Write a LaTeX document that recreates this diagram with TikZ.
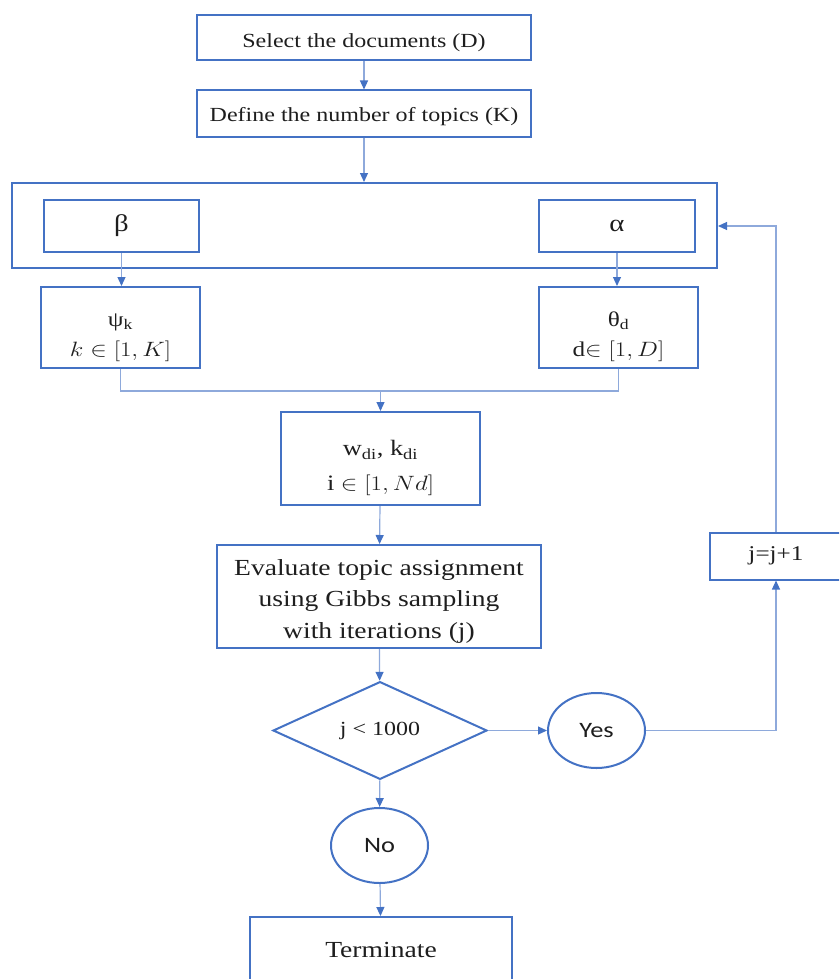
\documentclass[tikz,border=0pt]{standalone}
\usepackage{fontspec}
\usepackage{graphicx}
\setmainfont{Liberation Serif}[FakeStretch=1.2]
\newfontfamily\calib{Carlito}[FakeStretch=1.2]
\usetikzlibrary{arrows.meta,shapes.geometric}
\definecolor{boxblue}{HTML}{4472C4}
\definecolor{lineblue}{HTML}{8EA9DB}
\definecolor{txt}{HTML}{1E1E1E}
\newcommand{\mth}[1]{\scalebox{1.2}[1]{$#1$}}
\newcommand{\lowered}[2]{\raisebox{-#1}[0pt][0pt]{\begin{tabular}{@{}c@{}}#2\end{tabular}}}
\begin{document}
\begin{tikzpicture}[x=1pt,y=-1pt,
  bx/.style={draw=boxblue,line width=2pt,rectangle,inner sep=0pt,text=txt,align=center,font=\fontsize{20}{24}\selectfont},
  bigbx/.style={bx,font=\fontsize{23}{31.5}\selectfont},
  mathbx/.style={bx,font=\fontsize{21}{30}\selectfont},
  roundnode/.style={draw=boxblue,line width=2pt,ellipse,inner sep=0pt,minimum width=97pt,minimum height=75pt,text=txt,font=\calib\fontsize{22}{24}\selectfont},
  decide/.style={draw=boxblue,line width=2pt,diamond,inner sep=0pt,minimum width=214pt,minimum height=87pt,text=txt,font=\fontsize{20}{24}\selectfont},
  conn/.style={draw=lineblue,line width=1.2pt,-{Triangle[length=9pt,width=8pt,color=boxblue]}},
  plainline/.style={draw=lineblue,line width=1.2pt}]
\useasboundingbox (0,0) rectangle (839,979);
\clip (0,0) rectangle (839,979);

\node[bx,minimum width=334pt,minimum height=45pt] (docs) at (364,38) {\raisebox{-10pt}[0pt][0pt]{Select the documents (D)}};
\node[bx,minimum width=334pt,minimum height=46pt] (topics) at (364,113.5) {\raisebox{-8pt}[0pt][0pt]{Define the number of topics (K)}};
\node[bx,minimum width=705pt,minimum height=85pt] (outer) at (364.5,225.5) {};
\node[bx,minimum width=155pt,minimum height=52pt,font=\fontsize{24}{26}\selectfont] (beta) at (121.5,226) {β};
\node[bx,minimum width=156pt,minimum height=52pt,font=\fontsize{24}{26}\selectfont] (alpha) at (617,226) {α};
\node[mathbx,minimum width=159pt,minimum height=81pt] (psi) at (120.5,327.5) {\lowered{13pt}{ψ\textsubscript{k}\\\mth{k \in [1,K]}}};
\node[mathbx,minimum width=159pt,minimum height=81pt] (theta) at (618.5,327.5) {\lowered{13pt}{θ\textsubscript{d}\\d\mth{\in [1,D]}}};
\node[mathbx,minimum width=199pt,minimum height=93pt,font=\fontsize{22}{35}\selectfont] (w) at (380.5,458.5) {\lowered{13pt}{w\textsubscript{di}, k\textsubscript{di}\\i \mth{\in [1,Nd]}}};
\node[bigbx,minimum width=324pt,minimum height=103pt] (eval) at (379,596.5) {\lowered{10pt}{Evaluate topic assignment\\using Gibbs sampling\\with iterations (j)}};
\node[decide] (dia) at (380,730.5) {j < 1000};
\node[roundnode] (yes) at (596.5,730.5) {Yes};
\node[roundnode] (no) at (379.5,845.5) {No};
\node[bigbx,minimum width=262pt,minimum height=66pt] (term) at (381,950) {Terminate};
\node[bx,minimum width=132pt,minimum height=47pt,font=\fontsize{21}{24}\selectfont] (jj) at (776,556) {j=j+1};

\coordinate (merge) at (380.5,391);
\coordinate (fbbottom) at (776,730.5);
\coordinate (fbtop) at (776,226);

\draw[conn] (docs) -- (topics);
\draw[conn] (topics.south) -- (topics.south |- outer.north);
\draw[conn] (beta.south) -- (beta.south |- psi.north);
\draw[conn] (alpha.south) -- (alpha.south |- theta.north);
\draw[plainline] (psi.south) |- (merge) -| (theta.south);
\draw[conn] (merge) -- (w.north);
\draw[conn] (w) -- (eval);
\draw[conn] (eval) -- (dia);
\draw[conn] (dia) -- (yes);
\draw[conn] (dia) -- (no);
\draw[conn] (no) -- (term);
\draw[plainline] (yes.east) -- (fbbottom);
\draw[conn] (fbbottom) -- (jj.south);
\draw[conn] (jj.north) -- (fbtop) -- (fbtop -| outer.east);
\end{tikzpicture}
\end{document}
